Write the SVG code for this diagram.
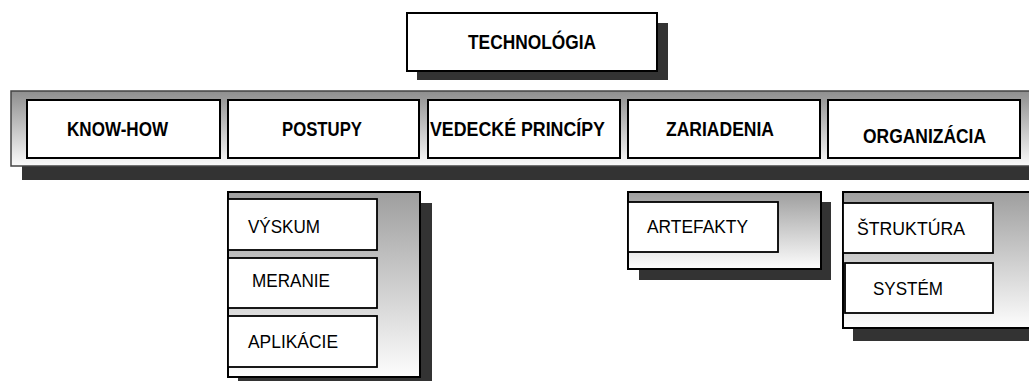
<svg xmlns="http://www.w3.org/2000/svg" width="1029" height="381" viewBox="0 0 1029 381">
<defs>
<linearGradient id="barGrad" x1="0" y1="0" x2="0" y2="1">
<stop offset="0" stop-color="#8e8e8e"/>
<stop offset="1" stop-color="#fbfbfb"/>
</linearGradient>
<linearGradient id="panelGrad" x1="0" y1="0" x2="0" y2="1">
<stop offset="0" stop-color="#9e9e9e"/>
<stop offset="1" stop-color="#fdfdfd"/>
</linearGradient>
</defs>
<style>
.shadow{fill:#333333;stroke:none}
.box{fill:#ffffff;stroke:#000000;stroke-width:2}
.bar{fill:url(#barGrad);stroke:#444444;stroke-width:1.5}
.panel{fill:url(#panelGrad);stroke:#000000;stroke-width:2}
.sub{fill:#ffffff;stroke:#000000;stroke-width:1.8}
.bold{font-family:"Liberation Sans",Arial,sans-serif;font-weight:bold;font-size:20.5px;fill:#000}
.reg{font-family:"Liberation Sans",Arial,sans-serif;font-size:17.5px;fill:#000}
</style>
<rect width="1029" height="381" fill="#ffffff"/>

<g id="technologia">
<rect class="shadow" x="417" y="23" width="251" height="57"/>
<rect class="box" x="407" y="13" width="250" height="58"/>
<text class="bold" x="468" y="49" textLength="128" lengthAdjust="spacingAndGlyphs">TECHNOLÓGIA</text>
</g>

<g id="bar">
<rect class="shadow" x="22" y="102" width="1020" height="78"/>
<rect class="bar" x="11" y="91" width="1030" height="75"/>
</g>

<g id="know-how">
<rect class="box" x="27" y="100" width="193" height="58"/>
<text class="bold" x="67" y="136" textLength="101" lengthAdjust="spacingAndGlyphs">KNOW-HOW</text>
</g>
<g id="postupy">
<rect class="box" x="228" y="100" width="191" height="58"/>
<text class="bold" x="282" y="136" textLength="80" lengthAdjust="spacingAndGlyphs">POSTUPY</text>
</g>
<g id="vedecke-principy">
<rect class="box" x="428" y="100" width="192" height="58"/>
<text class="bold" x="430" y="135.5" textLength="175" lengthAdjust="spacingAndGlyphs">VEDECKÉ PRINCÍPY</text>
</g>
<g id="zariadenia">
<rect class="box" x="628" y="100" width="192" height="58"/>
<text class="bold" x="666" y="135.5" textLength="108" lengthAdjust="spacingAndGlyphs">ZARIADENIA</text>
</g>
<g id="organizacia">
<rect class="box" x="828" y="100" width="192" height="58"/>
<text class="bold" x="863" y="143" textLength="123" lengthAdjust="spacingAndGlyphs">ORGANIZÁCIA</text>
</g>

<g id="panel-postupy">
<rect class="shadow" x="238" y="203" width="194" height="178"/>
<rect class="panel" x="228" y="192" width="192" height="185"/>
</g>
<g id="vyskum">
<rect class="sub" x="228" y="199" width="149" height="51"/>
<text class="reg" x="248" y="233" textLength="72" lengthAdjust="spacingAndGlyphs">VÝSKUM</text>
</g>
<g id="meranie">
<rect class="sub" x="228" y="258" width="149" height="50"/>
<text class="reg" x="252" y="287" textLength="78" lengthAdjust="spacingAndGlyphs">MERANIE</text>
</g>
<g id="aplikacie">
<rect class="sub" x="228" y="316" width="149" height="51"/>
<text class="reg" x="248" y="348" textLength="90" lengthAdjust="spacingAndGlyphs">APLIKÁCIE</text>
</g>

<g id="panel-zariadenia">
<rect class="shadow" x="639" y="202" width="192" height="78"/>
<rect class="panel" x="628" y="192" width="193" height="77"/>
</g>
<g id="artefakty">
<rect class="sub" x="628" y="202" width="150" height="50"/>
<text class="reg" x="647" y="233" textLength="101" lengthAdjust="spacingAndGlyphs">ARTEFAKTY</text>
</g>

<g id="panel-organizacia">
<rect class="shadow" x="853" y="203" width="180" height="138"/>
<rect class="panel" x="843" y="192" width="190" height="136"/>
</g>
<g id="struktura">
<rect class="sub" x="843" y="203" width="150" height="50"/>
<text class="reg" x="857" y="235" textLength="108" lengthAdjust="spacingAndGlyphs">ŠTRUKTÚRA</text>
</g>
<g id="system">
<rect class="sub" x="845" y="263" width="148" height="50"/>
<text class="reg" x="873" y="295" textLength="70" lengthAdjust="spacingAndGlyphs">SYSTÉM</text>
</g>

<g id="connectors"/>
</svg>
